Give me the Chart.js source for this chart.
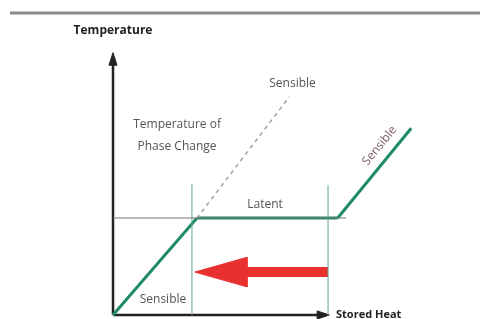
<!DOCTYPE html>
<html>
<head>
<meta charset="utf-8">
<style>
    html, body { margin: 0; padding: 0; background: #fff; }
    #chart { display: block; }
</style>
<script src="https://cdn.jsdelivr.net/npm/chart.js@4/dist/chart.umd.min.js"></script>
</head>
<body>
<canvas id="chart" width="480" height="319"></canvas>
<script>
'use strict';

// values in [stored heat, temperature] units
const sensibleLow = [[0, 0], [4, 4]];
const latent = [[4, 4], [10.7, 4]];
const sensibleHigh = [[10.7, 4], [14.2, 7.7]];
const sensibleNoPhase = [[0, 0], [4, 4], [8.4, 9]];
const phaseLevel = [[0, 4], [11.1, 4]];
const latentStart = [[3.76, 0], [3.76, 5.4]];
const latentEnd = [[10.24, 0], [10.24, 5.35]];
const releaseShaft = [[10.24, 1.77], [6.2, 1.77]];
const releaseHead = [[3.9, 1.77], [6.38, 2.38], [6.38, 1.16], [3.9, 1.77]];
const axisTemp = [[0, 0], [0, 10.4]];
const axisTempHead = [[-0.19, 10.3], [0, 10.82], [0.19, 10.3], [-0.19, 10.3]];
const axisHeat = [[0, 0], [9.8, 0]];
const axisHeatHead = [[9.72, 0.17], [10.3, 0], [9.72, -0.17], [9.72, 0.17]];

// text labels: [text, heat, temperature]
const labels = [
    ['Temperature of', 3.05, 7.86],
    ['Phase Change', 3.05, 6.95],
    ['Sensible', 8.55, 9.53],
    ['Latent', 7.24, 4.54],
    ['Sensible', 2.38, 0.62],
];
const axisTitles = [
    ['Temperature', 0, 11.72, 'center', 12],
    ['Stored Heat', 10.62, 0.02, 'left', 11],
];

const green = '#1f8a68';
const toPoints = (arr) => arr.map((p) => ({ x: p[0], y: p[1] }));

function lineSet(arr, color, width, extra) {
    return Object.assign({
        data: toPoints(arr),
        borderColor: color,
        backgroundColor: color,
        borderWidth: width,
        pointRadius: 0,
        showLine: true,
        fill: false,
        tension: 0,
    }, extra || {});
}

// labels and the rule at the top drawn after the datasets
const textPlugin = {
    id: 'textLabels',
    beforeDraw(chart) {
        let ctx = chart.ctx;
        ctx.save();
        ctx.strokeStyle = '#8a8a8a';
        ctx.lineWidth = 3;
        ctx.beginPath();
        ctx.moveTo(10, 13);
        ctx.lineTo(480, 13);
        ctx.stroke();
        ctx.restore();
    },
    afterDatasetsDraw(chart) {
        let ctx = chart.ctx;
        let sx = chart.scales.x;
        let sy = chart.scales.y;
        ctx.save();
        ctx.textBaseline = 'middle';
        ctx.fillStyle = '#555';
        ctx.font = '12px "Open Sans"';
        ctx.textAlign = 'center';
        for (let l of labels)
            ctx.fillText(l[0], sx.getPixelForValue(l[1]), sy.getPixelForValue(l[2]));

        ctx.fillStyle = '#222';
        for (let t of axisTitles) {
            ctx.font = 'bold ' + t[4] + 'px "Open Sans"';
            ctx.textAlign = t[3];
            ctx.fillText(t[0], sx.getPixelForValue(t[1]), sy.getPixelForValue(t[2]));
        }

        // label running along the upper sensible segment
        let a = sensibleHigh[0], b = sensibleHigh[1];
        let x0 = sx.getPixelForValue(a[0]), y0 = sy.getPixelForValue(a[1]);
        let x1 = sx.getPixelForValue(b[0]), y1 = sy.getPixelForValue(b[1]);
        let angle = Math.atan2(y1 - y0, x1 - x0);
        ctx.translate(sx.getPixelForValue(12.7), sy.getPixelForValue(6.98));
        ctx.rotate(angle);
        ctx.textAlign = 'center';
        ctx.fillStyle = '#7d5a68';
        ctx.font = '12px "Open Sans"';
        ctx.fillText('Sensible', 0, 0);
        ctx.restore();
    },
};

let ctx = document.getElementById('chart').getContext('2d');
let cfg = {
    type: 'scatter',
    data: {
        datasets: [
            lineSet(phaseLevel, '#777', 1),
            lineSet(latentStart, '#5aa89a', 1),
            lineSet(latentEnd, '#5aa89a', 1),
            lineSet(sensibleLow, green, 3),
            lineSet(sensibleNoPhase, '#a0a0a0', 1.5, { borderDash: [4, 4] }),
            lineSet(latent, green, 3),
            lineSet(sensibleHigh, green, 3),
            lineSet(releaseShaft, '#e8302f', 10, { borderCapStyle: 'butt' }),
            lineSet(releaseHead, '#e8302f', 1, { fill: 'shape' }),
            lineSet(axisTemp, '#222', 2.5),
            lineSet(axisTempHead, '#222', 1, { fill: 'shape' }),
            lineSet(axisHeat, '#222', 2.5),
            lineSet(axisHeatHead, '#222', 1, { fill: 'shape' }),
        ],
    },
    options: {
        responsive: false,
        animation: false,
        layout: { padding: 0 },
        plugins: {
            legend: { display: false },
            tooltip: { enabled: false },
        },
        scales: {
            x: { type: 'linear', min: -5.381, max: 17.476, display: false },
            y: { type: 'linear', min: -0.165, max: 12.99, display: false },
        },
    },
    plugins: [textPlugin],
};
new Chart(ctx, cfg);
</script>
</body>
</html>
